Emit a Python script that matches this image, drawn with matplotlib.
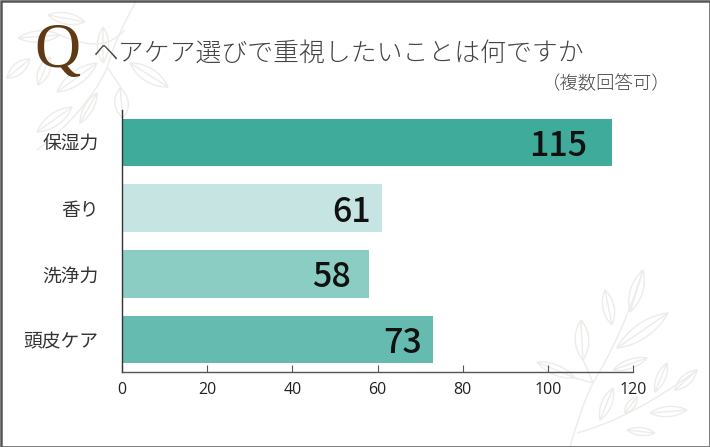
#!/usr/bin/env python3
import numpy as np
import matplotlib
matplotlib.use('Agg')
import matplotlib.pyplot as plt
from matplotlib.path import Path
from matplotlib.patches import PathPatch, Rectangle

plt.rcParams['font.family'] = ['Noto Sans CJK JP', 'DejaVu Sans']

categories = ['保湿力', '香り', '洗浄力', '頭皮ケア']
values = [115, 61, 58, 73]
bar_colors = ['#3eab9b', '#c6e5e2', '#8ccdc3', '#65bbaf']
xticks = [0, 20, 40, 60, 80, 100, 120]

title = 'ヘアケア選びで重視したいことは何ですか'
subtitle = '（複数回答可）'

# gap between bar end and its number, in x units
label_gaps = [5.7, 2.5, 4.3, 2.5]

# decoration, pixels: base x, base y, tip x, tip y, bulge
leaves = [(85, 22, 48, 15, 10), (60, 35, 18, 38, 10), (30, 59, 7, 78, 10),
          (50, 57, 38, 85, 10), (97, 63, 57, 92, 12), (103, 63, 103, 27, 10),
          (130, 63, 168, 87, 12), (120, 88, 123, 118, 12), (72, 107, 37, 132, 11),
          (97, 93, 80, 123, 8),
          (630, 312, 643, 270, 11), (612, 325, 605, 290, 10), (583, 360, 581, 320, 12),
          (617, 348, 668, 313, 13), (613, 370, 647, 358, 8), (575, 378, 537, 362, 9),
          (655, 392, 667, 363, 8), (675, 390, 697, 370, 9), (650, 413, 687, 410, 9),
          (627, 430, 655, 433, 7), (600, 420, 613, 388, 9), (625, 413, 637, 397, 7)]
stems = [(137, 0, 122, 25, 112, 50, 107, 68), (107, 68, 95, 95, 70, 125, 37, 150),
         (108, 68, 112, 75, 118, 82, 122, 90), (125, 30, 110, 45, 95, 50, 60, 35),
         (643, 270, 630, 312, 613, 350, 593, 383), (593, 383, 582, 405, 575, 430, 570, 447),
         (577, 433, 613, 423, 653, 403, 697, 370), (575, 378, 582, 380, 590, 382, 593, 383),
         (583, 360, 590, 375, 592, 380, 593, 383)]


def draw_leaf(ax, x0, y0, x1, y1, bulge):
    p0 = np.array([x0, y0], float)
    tip = np.array([x1, y1], float)
    d = tip - p0
    n = np.array([-d[1], d[0]]) / np.hypot(*d)
    verts = [p0, p0 + d * 0.3 + n * bulge * 0.75, p0 + d * 0.7 + n * bulge * 0.75, tip,
             p0 + d * 0.7 - n * bulge * 0.75, p0 + d * 0.3 - n * bulge * 0.75, p0, tip]
    codes = [Path.MOVETO, Path.CURVE4, Path.CURVE4, Path.CURVE4,
             Path.CURVE4, Path.CURVE4, Path.CURVE4, Path.LINETO]
    ax.add_patch(PathPatch(Path(verts, codes), fc='none', ec='#ecece9', lw=1.0))


fig = plt.figure(figsize=(7.1, 4.47), dpi=100, facecolor='white')

# background layer in pixel coordinates
bg = fig.add_axes([0, 0, 1, 1], zorder=0)
bg.set_xlim(0, 710)
bg.set_ylim(447, 0)
bg.axis('off')
for leaf in leaves:
    draw_leaf(bg, *leaf)
for s in stems:
    verts = [(s[0], s[1]), (s[2], s[3]), (s[4], s[5]), (s[6], s[7])]
    bg.add_patch(PathPatch(Path(verts, [Path.MOVETO, Path.CURVE4, Path.CURVE4, Path.CURVE4]),
                           fc='none', ec='#ecece9', lw=1.0))
bg.add_patch(Rectangle((0.5, 0.5), 709, 446, fc='none', ec='#555555', lw=1.8))

bg.text(34, 67, 'Q', family='Liberation Serif', fontsize=46, color='#5f3a14', ha='left', va='baseline')
bg.text(92, 53, title, fontsize=18.6, fontweight='light', color='#444444', ha='left', va='center')
bg.text(671, 84, subtitle, fontsize=13.2, fontweight='light', color='#444444', ha='right', va='center')

ax = fig.add_axes([122 / 710, 1 - 372 / 447, (633 - 122) / 710, (372 - 110) / 447], zorder=1)
ax.patch.set_alpha(0)
y = np.arange(len(categories))
ax.barh(y, values, height=0.72, color=bar_colors)
ax.set_xlim(0, 120)
ax.set_ylim(3.49, -0.49)

for yi, v, gap in zip(y, values, label_gaps):
    ax.text(v - gap, yi, str(v), fontsize=24.5, fontweight='medium',
            color='#111111', ha='right', va='center_baseline')

ax.set_yticks(y, categories)
ax.tick_params(axis='y', length=0, pad=17, labelsize=13.5, labelcolor='#333333')
ax.set_xticks(xticks)
ax.tick_params(axis='x', direction='in', length=5, width=0.8, color='#555555',
               pad=7, labelsize=11.5, labelcolor='#222222')
for lbl in ax.get_xticklabels():
    lbl.set_family('Open Sans')
for name in ['top', 'right']:
    ax.spines[name].set_visible(False)
ax.spines['left'].set_color('#333333')
ax.spines['bottom'].set_color('#555555')
ax.spines['left'].set_linewidth(1.0)
ax.spines['bottom'].set_linewidth(1.0)

fig.savefig('out.png', dpi=100)
